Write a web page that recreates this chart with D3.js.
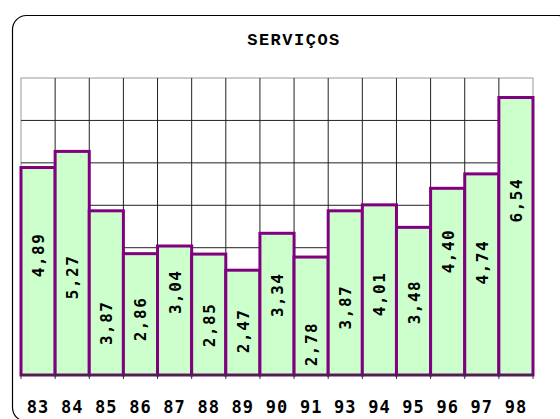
<!DOCTYPE html>
<html lang="pt">
<head>
    <meta charset="UTF-8">
    <title>Serviços</title>
    <script src="https://d3js.org/d3.v7.min.js"></script>
    <style>
        body {
            margin: 0;
            padding: 0;
            background-color: #fff;
        }

        #chart {
            display: block;
        }

        .title {
            font-family: "Liberation Mono", "Courier New", monospace;
            font-weight: bold;
            font-size: 17px;
            letter-spacing: 1.5px;
        }

        .bar-label {
            font-family: "DejaVu Sans Mono", monospace;
            font-weight: bold;
            font-size: 16px;
        }

        .x-label {
            font-family: "DejaVu Sans Mono", monospace;
            font-weight: bold;
            font-size: 17px;
            letter-spacing: 1px;
        }
    </style>
</head>
<body>
<svg id="chart"></svg>

<script>
    // Chart data
    const years = ['83', '84', '85', '86', '87', '88', '89', '90', '91', '93', '94', '95', '96', '97', '98'];
    const values = [4.89, 5.27, 3.87, 2.86, 3.04, 2.85, 2.47, 3.34, 2.78, 3.87, 4.01, 3.48, 4.40, 4.74, 6.54];
    // where each value label sits, in value units
    const labelAt = [2.83, 2.31, 1.23, 1.32, 1.96, 1.18, 1.04, 1.89, 0.73, 1.60, 1.91, 1.72, 2.92, 2.66, 4.12];
    const yTicks = [1, 2, 3, 4, 5, 6, 7];

    const data = years.map((d, i) => ({ year: d, value: values[i], labelAt: labelAt[i] }));

    // Set up the chart dimensions
    const W = 560, H = 419;
    const margin = { top: 78, right: 27, bottom: 44, left: 21 };
    const width = W - margin.left - margin.right;
    const height = H - margin.top - margin.bottom;

    const svg = d3.select('#chart')
        .attr('width', W)
        .attr('height', H);

    // Rounded outer frame
    svg.append('rect')
        .attr('x', 12.5)
        .attr('y', 15.5)
        .attr('width', 560)
        .attr('height', 406)
        .attr('rx', 14)
        .attr('fill', 'none')
        .attr('stroke', '#000')
        .attr('stroke-width', 1.2);

    svg.append('text')
        .attr('class', 'title')
        .attr('x', 294)
        .attr('y', 45)
        .attr('text-anchor', 'middle')
        .text('SERVIÇOS');

    const chart = svg.append('g')
        .attr('transform', `translate(${margin.left},${margin.top})`);

    // Scales
    const x = d3.scaleBand().domain(years).range([0, width]).padding(0);
    const y = d3.scaleLinear().domain([0, 7]).range([height, 0]);

    // Plot area border
    chart.append('rect')
        .attr('width', width)
        .attr('height', height)
        .attr('fill', '#fff')
        .attr('stroke', '#999')
        .attr('stroke-width', 1);

    // Horizontal gridlines
    chart.selectAll('.hgrid')
        .data(yTicks.filter(t => t < 7))
        .join('line')
        .attr('class', 'hgrid')
        .attr('x1', 0)
        .attr('x2', width)
        .attr('y1', d => y(d))
        .attr('y2', d => y(d))
        .attr('stroke', '#222')
        .attr('stroke-width', 1);

    // Vertical gridlines at category boundaries
    chart.selectAll('.vgrid')
        .data(years.slice(1))
        .join('line')
        .attr('class', 'vgrid')
        .attr('x1', d => x(d))
        .attr('x2', d => x(d))
        .attr('y1', 0)
        .attr('y2', height)
        .attr('stroke', '#222')
        .attr('stroke-width', 1);

    // Bars
    chart.selectAll('.bar')
        .data(data)
        .join('rect')
        .attr('class', 'bar')
        .attr('x', d => x(d.year))
        .attr('y', d => y(d.value))
        .attr('width', x.bandwidth())
        .attr('height', d => height - y(d.value))
        .attr('fill', '#ccffcc')
        .attr('stroke', '#800080')
        .attr('stroke-width', 3);

    // Value labels, rotated
    chart.selectAll('.bar-label')
        .data(data)
        .join('text')
        .attr('class', 'bar-label')
        .attr('transform', d => `translate(${x(d.year) + x.bandwidth() / 2 + 6},${y(d.labelAt)}) rotate(-90)`)
        .attr('text-anchor', 'middle')
        .attr('letter-spacing', 1.5)
        .text(d => d3.format('.2f')(d.value).replace('.', ','));

    // X axis
    const xAxis = chart.append('g')
        .attr('transform', `translate(0,${height})`);

    xAxis.append('line')
        .attr('x1', 0)
        .attr('x2', width)
        .attr('stroke', '#333')
        .attr('stroke-width', 1.5);

    xAxis.selectAll('.tick')
        .data(years.concat(['end']))
        .join('line')
        .attr('class', 'tick')
        .attr('x1', (d, i) => i * x.step())
        .attr('x2', (d, i) => i * x.step())
        .attr('y1', 0)
        .attr('y2', 4)
        .attr('stroke', '#333');

    xAxis.selectAll('.x-label')
        .data(years)
        .join('text')
        .attr('class', 'x-label')
        .attr('x', d => x(d) + x.bandwidth() / 2)
        .attr('y', 38)
        .attr('text-anchor', 'middle')
        .text(d => d);
</script>
</body>
</html>
